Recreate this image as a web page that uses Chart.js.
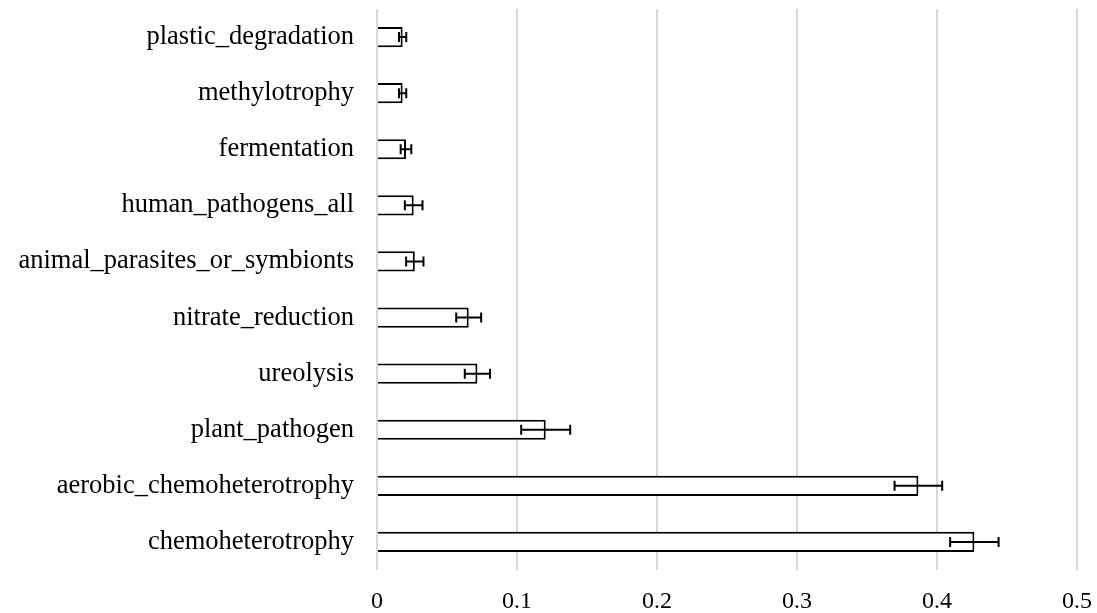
<!DOCTYPE html>
<html>
<head>
<meta charset="utf-8">
<script src="https://cdn.jsdelivr.net/npm/chart.js@4"></script>
<style>
  html, body { margin: 0; padding: 0; background: #fff; }
  #wrap { width: 1097px; height: 613px; }
</style>
</head>
<body>
<div id="wrap"><canvas id="chart"></canvas></div>
<script>
const functions = [
  "plastic_degradation",
  "methylotrophy",
  "fermentation",
  "human_pathogens_all",
  "animal_parasites_or_symbionts",
  "nitrate_reduction",
  "ureolysis",
  "plant_pathogen",
  "aerobic_chemoheterotrophy",
  "chemoheterotrophy"
];
const meanValues = [0.0183, 0.0183, 0.0207, 0.0262, 0.027, 0.0655, 0.0717, 0.1205, 0.3867, 0.4267];
const errValues  = [0.0026, 0.0026, 0.0038, 0.0063, 0.0062, 0.0089, 0.009, 0.0175, 0.017, 0.0173];
const xTicks = [0, 0.1, 0.2, 0.3, 0.4, 0.5];

// draw the error bars on top of the bars
const errorBars = {
  id: "errorBars",
  afterDatasetsDraw(chart) {
    const ctx = chart.ctx;
    const x = chart.scales.x;
    const meta = chart.getDatasetMeta(0);
    ctx.save();
    ctx.strokeStyle = "#000";
    ctx.lineWidth = 2;
    meta.data.forEach((bar, i) => {
      const lo = x.getPixelForValue(meanValues[i] - errValues[i]);
      const hi = x.getPixelForValue(meanValues[i] + errValues[i]);
      const y = bar.y;
      ctx.beginPath();
      ctx.moveTo(lo, y); ctx.lineTo(hi, y);
      ctx.moveTo(lo, y - 5); ctx.lineTo(lo, y + 5);
      ctx.moveTo(hi, y - 5); ctx.lineTo(hi, y + 5);
      ctx.stroke();
    });
    ctx.restore();
  }
};

const serif = "'Liberation Serif', 'Times New Roman', serif";

new Chart(document.getElementById("chart"), {
  type: "bar",
  data: {
    labels: functions,
    datasets: [{
      data: meanValues,
      backgroundColor: "#fff",
      borderColor: "#000",
      borderWidth: 2,
      barPercentage: 0.36,
      categoryPercentage: 1
    }]
  },
  options: {
    indexAxis: "y",
    responsive: true,
    maintainAspectRatio: false,
    animation: false,
    layout: { padding: { left: 0, right: 20, top: 9, bottom: 0 } },
    plugins: { legend: { display: false }, tooltip: { enabled: false } },
    scales: {
      x: {
        min: 0,
        max: 0.5,
        afterBuildTicks: s => { s.ticks = xTicks.map(v => ({ value: v })); },
        afterFit: s => { s.height = 43; s.paddingLeft = 0; s.paddingRight = 0; },
        grid: { color: "#d9d9d9", lineWidth: 2, drawTicks: false },
        border: { display: false },
        ticks: { color: "#000", font: { family: serif, size: 24 }, padding: 17, callback: v => String(v) }
      },
      y: {
        afterFit: s => { s.width = 377; s.paddingTop = 0; s.paddingBottom = 0; },
        grid: { display: false, drawTicks: false },
        border: { display: false },
        ticks: { color: "#000", font: { family: serif, size: 26.5 }, padding: 23 }
      }
    }
  },
  plugins: [errorBars]
});
</script>
</body>
</html>
